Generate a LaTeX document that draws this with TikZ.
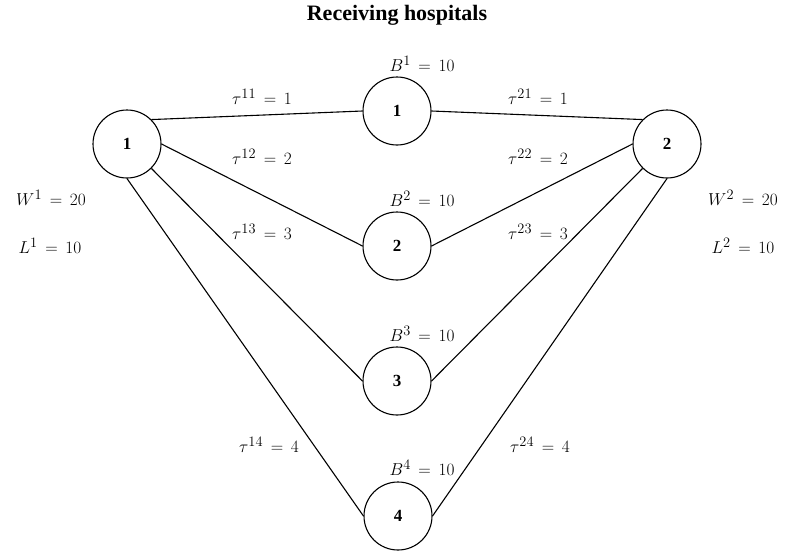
\documentclass[tikz,border=0pt]{standalone}
\usepackage[no-math]{fontspec}
\setmainfont{Liberation Serif}
% relation sign with a little extra room on each side
\newcommand\eqq{\mathrel{\mkern3mu=\mkern3mu}}
\begin{document}
\begin{tikzpicture}[x=1pt,y=-1pt,
  hosp/.style={circle,draw,line width=1.1pt,minimum size=68pt,inner sep=0pt,
    font=\bfseries\fontsize{17}{17}\selectfont},
  lbl/.style={inner sep=0pt,font=\fontsize{19}{19}\selectfont},
  link/.style={line width=1.1pt}]
\useasboundingbox (0,0) rectangle (785,552);

\node[font=\bfseries\fontsize{22}{22}\selectfont] (title) at (397,15) {Receiving hospitals};

% sending hospitals
\node[hosp] (s1) at (127,144) {1};
\node[hosp] (s2) at (667,144) {2};
% receiving hospitals
\node[hosp] (r1) at (397,111) {1};
\node[hosp] (r2) at (397,246) {2};
\node[hosp] (r3) at (397,381) {3};
\node[hosp] (r4) at (398,516) {4};

% links
\draw[link] (s1.north east) -- (r1.west);
\draw[link] (s1.east) -- (r2.west);
\draw[link] (s1.south east) -- (r3.west);
\draw[link] (s1.south) -- (r4.west);
\draw[link] (r1.east) -- (s2.north west);
\draw[link] (r2.east) -- (s2.west);
\draw[link] (r3.east) -- (s2.south west);
\draw[link] (r4.east) -- (s2.south);

% travel times
\node[lbl] (t11) at (262,97) {$\tau^{11}\eqq 1$};
\node[lbl] (t12) at (262,157) {$\tau^{12}\eqq 2$};
\node[lbl] (t13) at (262,232) {$\tau^{13}\eqq 3$};
\node[lbl] (t14) at (269,445) {$\tau^{14}\eqq 4$};
\node[lbl] (t21) at (538,97) {$\tau^{21}\eqq 1$};
\node[lbl] (t22) at (538,157) {$\tau^{22}\eqq 2$};
\node[lbl] (t23) at (538,232) {$\tau^{23}\eqq 3$};
\node[lbl] (t24) at (540,445) {$\tau^{24}\eqq 4$};

% capacities
\node[lbl] (b1) at (422,64) {$B^{1}\eqq 10$};
\node[lbl] (b2) at (422,199) {$B^{2}\eqq 10$};
\node[lbl] (b3) at (422,334) {$B^{3}\eqq 10$};
\node[lbl] (b4) at (422,468) {$B^{4}\eqq 10$};

% patients at sending hospitals
\node[lbl] (w1) at (51,198) {$W^{1}\eqq 20$};
\node[lbl] (l1) at (50,246) {$L^{1}\eqq 10$};
\node[lbl] (w2) at (743,198) {$W^{2}\eqq 20$};
\node[lbl] (l2) at (743,246) {$L^{2}\eqq 10$};
\end{tikzpicture}
\end{document}
